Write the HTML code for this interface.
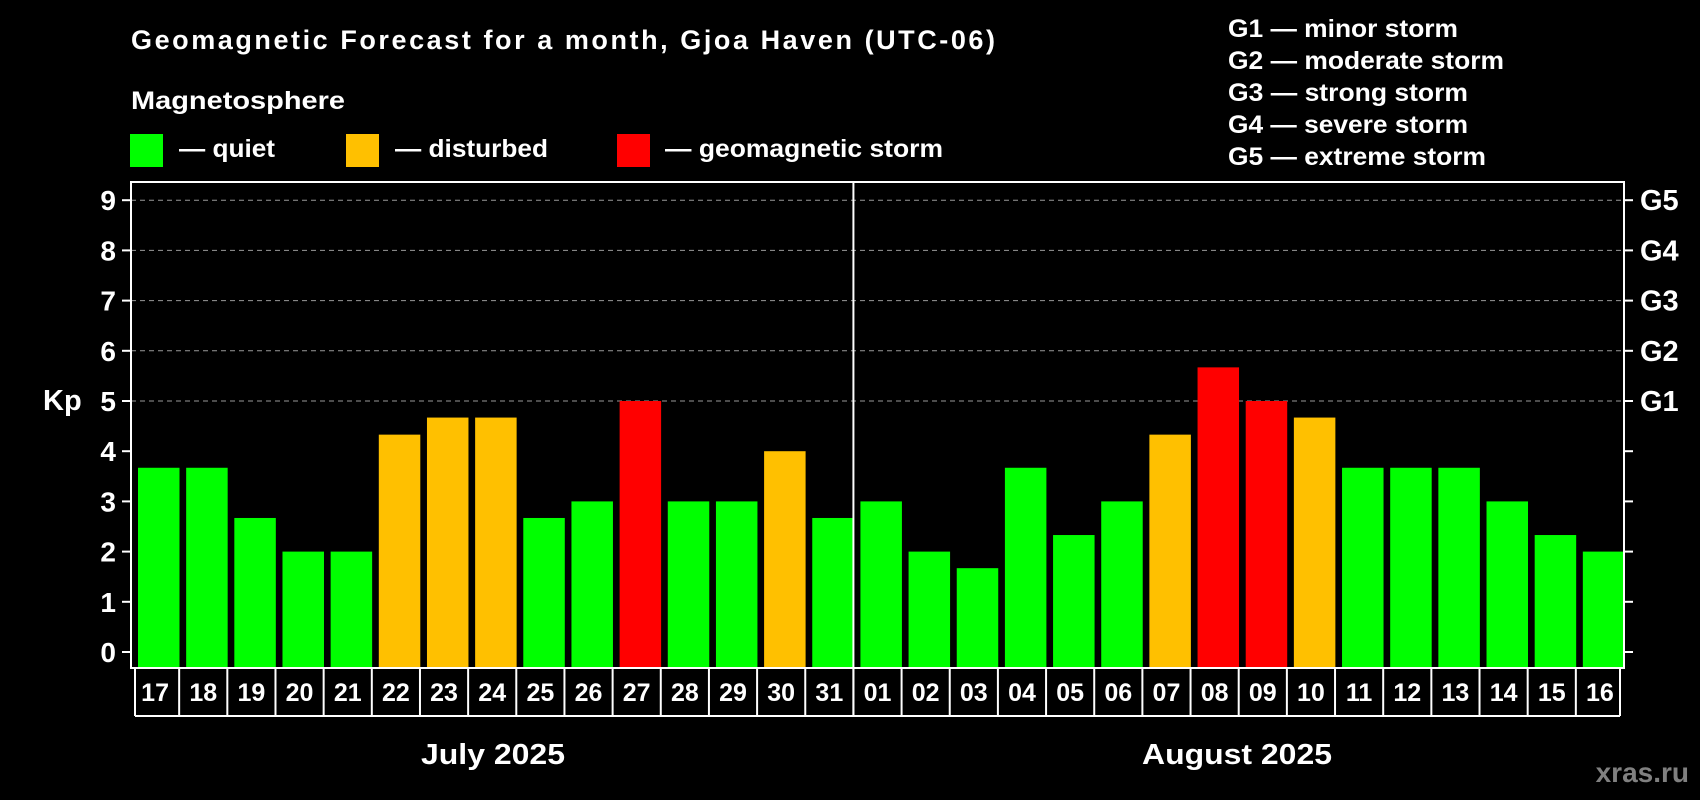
<!DOCTYPE html>
<html><head><meta charset="utf-8"><style>
html,body{margin:0;padding:0;background:#000;width:1700px;height:800px;overflow:hidden}
svg{display:block;font-family:"Liberation Sans",Arial,sans-serif;font-weight:bold}
</style></head><body>
<svg id="chart" width="1700" height="800" viewBox="0 0 1700 800">
<text x="131" y="49" font-size="27" fill="#fff" textLength="864" lengthAdjust="spacing">Geomagnetic Forecast for a month, Gjoa Haven (UTC-06)</text>
<text x="131" y="109" font-size="25" fill="#fff" textLength="214" lengthAdjust="spacingAndGlyphs">Magnetosphere</text>
<g><rect x="130" y="134" width="33" height="33" fill="#00ff00"/><text x="179" y="157" font-size="25" fill="#fff" textLength="96" lengthAdjust="spacingAndGlyphs">— quiet</text></g>
<g><rect x="346" y="134" width="33" height="33" fill="#ffc000"/><text x="395" y="157" font-size="25" fill="#fff" textLength="153" lengthAdjust="spacingAndGlyphs">— disturbed</text></g>
<g><rect x="617" y="134" width="33" height="33" fill="#ff0000"/><text x="665" y="157" font-size="25" fill="#fff" textLength="278" lengthAdjust="spacingAndGlyphs">— geomagnetic storm</text></g>
<g font-size="25" fill="#fff">
<text x="1228" y="37" textLength="230" lengthAdjust="spacingAndGlyphs">G1 — minor storm</text>
<text x="1228" y="69" textLength="276" lengthAdjust="spacingAndGlyphs">G2 — moderate storm</text>
<text x="1228" y="101" textLength="240" lengthAdjust="spacingAndGlyphs">G3 — strong storm</text>
<text x="1228" y="133" textLength="240" lengthAdjust="spacingAndGlyphs">G4 — severe storm</text>
<text x="1228" y="165" textLength="258" lengthAdjust="spacingAndGlyphs">G5 — extreme storm</text>
</g>
<text x="43" y="410" font-size="29" fill="#fff">Kp</text>
<g id="grid"></g><g id="bars"></g><g id="axes"></g>
<text x="493" y="764" font-size="29" fill="#fff" text-anchor="middle" textLength="144" lengthAdjust="spacingAndGlyphs">July 2025</text>
<text x="1237" y="764" font-size="29" fill="#fff" text-anchor="middle" textLength="190" lengthAdjust="spacingAndGlyphs">August 2025</text>
<text x="1689" y="782" font-size="28" fill="#808080" text-anchor="end">xras.ru</text>
</svg>
<script>
const days = ["17","18","19","20","21","22","23","24","25","26","27","28","29","30","31","01","02","03","04","05","06","07","08","09","10","11","12","13","14","15","16"];
const kpValues = [3.67,3.67,2.67,2,2,4.33,4.67,4.67,2.67,3,5,3,3,4,2.67,3,2,1.67,3.67,2.33,3,4.33,5.67,5,4.67,3.67,3.67,3.67,3,2.33,2];
const yTicks = [0,1,2,3,4,5,6,7,8,9];
const gLabels = ["G1","G2","G3","G4","G5"];
const NS="http://www.w3.org/2000/svg";
const L=131,R=1624,T=182,B=668,LB=716;
const slot=(R-L)/days.length;
function yS(v){return 652-v*50.2;}
function xS(i){return L+i*slot;}
function mk(tag,attrs,parent){const e=document.createElementNS(NS,tag);for(const k in attrs)e.setAttribute(k,attrs[k]);parent.appendChild(e);return e;}
const grid=document.getElementById('grid'),bars=document.getElementById('bars'),axes=document.getElementById('axes');
yTicks.forEach(v=>{
  const y=yS(v);
  if(v>=5){const g=mk('line',{x1:L,x2:R,y1:y,y2:y,stroke:'#999','stroke-width':1,'stroke-dasharray':'5,4'},grid);
  
  }
  const t1=mk('line',{x1:L-9,x2:L,y1:y,y2:y,stroke:'#fff','stroke-width':2},axes);
  
  
  const t2=mk('line',{x1:R,x2:R+9,y1:y,y2:y,stroke:'#fff','stroke-width':2},axes);
  
  
  const tl=mk('text',{x:116,y:y+10,'font-size':28,fill:'#fff','text-anchor':'end'},axes);
  tl.textContent=v;
  
  
  if(v>=5){const gl=mk('text',{x:1640,y:y+10,'font-size':29,fill:'#fff'},axes);
  gl.textContent=gLabels[v-5];
  
  }
});
kpValues.forEach((v,i)=>{
  const col=v>=5?'#ff0000':(v>=4?'#ffc000':'#00ff00');
  const y=yS(v);
  const b=mk('rect',{x:xS(i)+7,y:y,width:41.5,height:B-y,fill:col},bars);
  
  
  const t=mk('text',{x:xS(i)+slot/2,y:701,'font-size':25,fill:'#fff','text-anchor':'middle'},axes);
  t.textContent=days[i];
  
  
});
for(let i=0;i<=days.length;i++){
  const x=xS(i)+(i===0?4:0)-(i===days.length?4:0);
  const s=mk('line',{x1:x,x2:x,y1:B,y2:LB,stroke:'#fff','stroke-width':2},axes);
  
  
}
const lb=mk('line',{x1:L+4,x2:R-4,y1:LB,y2:LB,stroke:'#fff','stroke-width':2},axes);


const fr=mk('rect',{x:L,y:T,width:R-L,height:B-T,fill:'none',stroke:'#fff','stroke-width':2},axes);


const dv=mk('line',{x1:xS(15),x2:xS(15),y1:T,y2:LB,stroke:'#fff','stroke-width':2},axes);


</script>
</body></html>
